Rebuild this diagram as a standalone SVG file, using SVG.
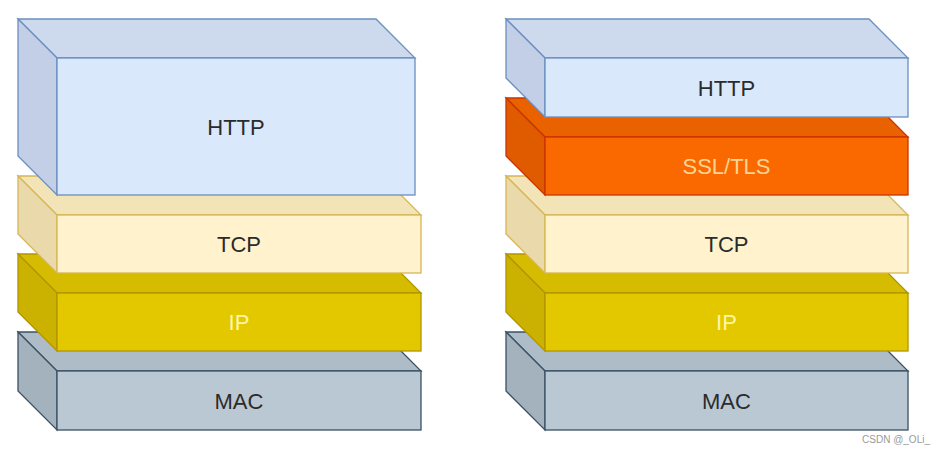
<svg xmlns="http://www.w3.org/2000/svg" width="945" height="454" viewBox="0 0 945 454">
<style>
text{font-family:"Liberation Sans",Arial,sans-serif;font-size:22px;text-anchor:middle}
.lbl{fill:#2b2b2b}
.http path,.http rect{stroke:#6C8EBF;stroke-width:1.3}
.http .front{fill:#DAE8FC}.http .top{fill:#CDDAEE}.http .side{fill:#C2CFE6}
.tcp path,.tcp rect{stroke:#D6B656;stroke-width:1.3}
.tcp .front{fill:#FFF2CC}.tcp .top{fill:#F3E4B8}.tcp .side{fill:#EADAAB}
.ip path,.ip rect{stroke:#B09500;stroke-width:1.3}
.ip .front{fill:#E3C800}.ip .top{fill:#D6BC00}.ip .side{fill:#CCB200}
.ip text{fill:#FFF6A8}
.mac path,.mac rect{stroke:#3A5164;stroke-width:1.3}
.mac .front{fill:#BAC8D3}.mac .top{fill:#AEBCC7}.mac .side{fill:#A4B2BD}
.ssl path,.ssl rect{stroke:#C73500;stroke-width:1.3}
.ssl .front{fill:#FA6800}.ssl .top{fill:#EA6100}.ssl .side{fill:#E05A00}
.ssl text{fill:#FFD491}
.wm{font-size:10px;fill:#9a9a9a;text-anchor:end}
</style>
<rect width="945" height="454" fill="#ffffff"/>
<!-- Left stack -->
<g id="left-mac" class="mac">
<path class="top" d="M18,332 L382,332 L421,371 L57,371 Z"/>
<path class="side" d="M18,332 L57,371 L57,430 L18,391 Z"/>
<rect class="front" x="57" y="371" width="364" height="59"/>
<text class="lbl" x="239" y="408.5">MAC</text>
</g>
<g id="left-ip" class="ip">
<path class="top" d="M18,254 L382,254 L421,293 L57,293 Z"/>
<path class="side" d="M18,254 L57,293 L57,351 L18,312 Z"/>
<rect class="front" x="57" y="293" width="364" height="58"/>
<text x="239" y="330">IP</text>
</g>
<g id="left-tcp" class="tcp">
<path class="top" d="M18,176 L382,176 L421,215 L57,215 Z"/>
<path class="side" d="M18,176 L57,215 L57,273 L18,234 Z"/>
<rect class="front" x="57" y="215" width="364" height="58"/>
<text class="lbl" x="239" y="252">TCP</text>
</g>
<g id="left-http" class="http">
<path class="top" d="M18,19 L376,19 L415,58 L57,58 Z"/>
<path class="side" d="M18,19 L57,58 L57,195 L18,156 Z"/>
<rect class="front" x="57" y="58" width="358" height="137"/>
<text class="lbl" x="236" y="134.5">HTTP</text>
</g>
<!-- Right stack -->
<g id="right-mac" class="mac">
<path class="top" d="M506,332 L869,332 L908,371 L545,371 Z"/>
<path class="side" d="M506,332 L545,371 L545,430 L506,391 Z"/>
<rect class="front" x="545" y="371" width="363" height="59"/>
<text class="lbl" x="726.5" y="408.5">MAC</text>
</g>
<g id="right-ip" class="ip">
<path class="top" d="M506,254 L869,254 L908,293 L545,293 Z"/>
<path class="side" d="M506,254 L545,293 L545,351 L506,312 Z"/>
<rect class="front" x="545" y="293" width="363" height="58"/>
<text x="726.5" y="330">IP</text>
</g>
<g id="right-tcp" class="tcp">
<path class="top" d="M506,176 L869,176 L908,215 L545,215 Z"/>
<path class="side" d="M506,176 L545,215 L545,273 L506,234 Z"/>
<rect class="front" x="545" y="215" width="363" height="58"/>
<text class="lbl" x="726.5" y="252">TCP</text>
</g>
<g id="right-ssl" class="ssl">
<path class="top" d="M506,98 L869,98 L908,137 L545,137 Z"/>
<path class="side" d="M506,98 L545,137 L545,195 L506,156 Z"/>
<rect class="front" x="545" y="137" width="363" height="58"/>
<text x="726.5" y="174">SSL/TLS</text>
</g>
<g id="right-http" class="http">
<path class="top" d="M506,19 L869,19 L908,58 L545,58 Z"/>
<path class="side" d="M506,19 L545,58 L545,117 L506,78 Z"/>
<rect class="front" x="545" y="58" width="363" height="59"/>
<text class="lbl" x="726.5" y="95.5">HTTP</text>
</g>
<g id="connectors"></g>
<text class="wm" x="930" y="443">CSDN @_OLi_</text>
</svg>
